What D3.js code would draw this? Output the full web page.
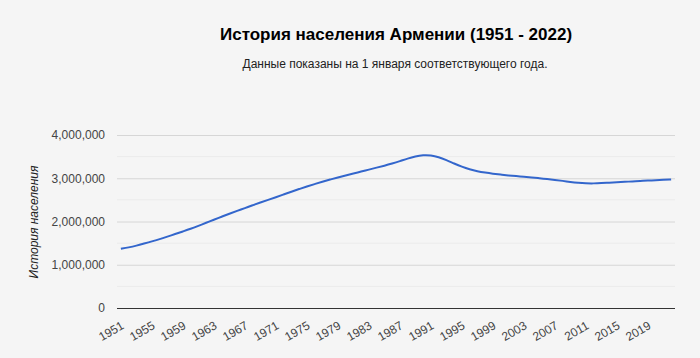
<!DOCTYPE html>
<html><head><meta charset="utf-8">
<script src="https://cdn.jsdelivr.net/npm/d3@7"></script>
<style>
html,body{margin:0;padding:0;background:#f5f5f5;}
svg{display:block;font-family:Arial,"Liberation Sans",sans-serif;}
</style></head>
<body>
<svg id="chart" width="700" height="358"></svg>
<script>
const years = d3.range(1951, 2023);
const population = [
1370000,1400000,1440000,1490000,1540000,1590000,1650000,1710000,1770000,1830000,
1900000,1970000,2040000,2110000,2180000,2245000,2310000,2375000,2440000,2500000,
2560000,2625000,2690000,2750000,2810000,2865000,2920000,2970000,3020000,3065000,
3110000,3155000,3200000,3245000,3290000,3340000,3395000,3455000,3505000,3535000,
3530000,3490000,3420000,3340000,3265000,3205000,3160000,3130000,3105000,3085000,
3065000,3050000,3035000,3020000,3000000,2980000,2960000,2940000,2915000,2895000,
2882000,2880000,2887000,2897000,2907000,2917000,2927000,2937000,2946000,2955000,
2964000,2973000];
const yTicks = [0,1000000,2000000,3000000,4000000];
const yMinorTicks = [500000,1500000,2500000,3500000];
const xTickYears = years.filter((y,i)=> i%4===0);
const title = "История населения Армении (1951 - 2022)";
const subtitle = "Данные показаны на 1 января соответствующего года.";
const yAxisTitle = "История населения";

const svg = d3.select("#chart");
const mLeft = 117, mRight = 675, mTop = 135, mBottom = 308;

const x = d3.scaleBand().domain(years).range([mLeft, mRight]);
const y = d3.scaleLinear().domain([0, 4000000]).range([mBottom, mTop]);
const cx = d => x(d) + x.bandwidth()/2;

svg.append("text").attr("x", 396).attr("y", 40).attr("text-anchor","middle")
  .attr("font-size", 17).attr("font-weight","bold").attr("fill","#000").text(title);
svg.append("text").attr("x", 395).attr("y", 68).attr("text-anchor","middle")
  .attr("font-size", 12).attr("fill","#222").text(subtitle);

// minor grid
svg.append("g").selectAll("line").data(yMinorTicks).join("line")
  .attr("x1", mLeft).attr("x2", mRight).attr("y1", d=>y(d)).attr("y2", d=>y(d))
  .attr("stroke","#ebebeb").attr("stroke-width",1);
// major grid
const yAxis = d3.axisLeft(y).tickValues(yTicks).tickSize(-(mRight-mLeft)).tickPadding(12)
  .tickFormat(d3.format(","));
const gy = svg.append("g").attr("transform",`translate(${mLeft},0)`).call(yAxis);
gy.select(".domain").remove();
gy.selectAll(".tick line").attr("stroke", d => d===0 ? "#333" : "#d6d6d6");
gy.selectAll(".tick text").attr("font-size",12).attr("fill","#444")
  .attr("font-family","Arial,'Liberation Sans',sans-serif");

// x axis labels
const xAxis = d3.axisBottom(x).tickValues(xTickYears).tickSize(0).tickPadding(0);
const gx = svg.append("g").attr("transform",`translate(0,${mBottom})`).call(xAxis);
gx.select(".domain").remove();
gx.selectAll(".tick text")
  .attr("font-size",12).attr("fill","#444")
  .attr("font-family","Arial,'Liberation Sans',sans-serif")
  .attr("text-anchor","end")
  .attr("transform","translate(4,20) rotate(-30)")
  .attr("dy","0");

// y axis title
svg.append("text").attr("transform","translate(38,222) rotate(-90)")
  .attr("text-anchor","middle").attr("font-size",12).attr("font-style","italic")
  .attr("fill","#222").text(yAxisTitle);

// line
const line = d3.line().x((d,i)=>cx(years[i])).y(d=>y(d)).curve(d3.curveBasis);
svg.append("path").datum(population).attr("d", line)
  .attr("fill","none").attr("stroke","#3366cc").attr("stroke-width",2);
</script>
</body></html>
